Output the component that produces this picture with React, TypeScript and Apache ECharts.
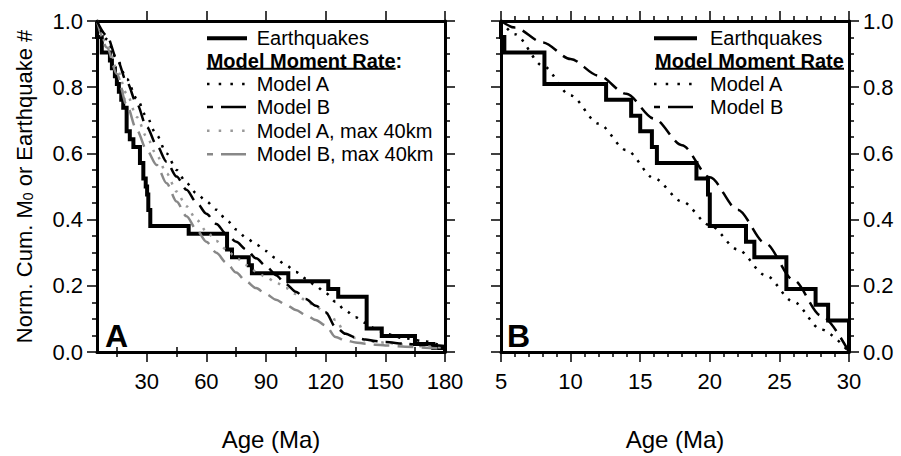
import React, { useEffect, useRef } from 'react';
import * as echarts from 'echarts';

const FONT = '"Liberation Sans", Arial, Helvetica, sans-serif';

// ---- Panel A data (Age in Ma, normalized cumulative value) ----
const eqAgeA = [5, 5, 7.4, 11.5, 12.5, 14, 15, 16, 17.2, 18.2, 19.9, 21.5, 23.3, 26.6, 28.3, 29.5, 30.2, 30.8, 31.8, 51.1, 70.4, 72.9, 81.3, 82.9, 101.2, 121.3, 126.3, 140.6, 148.2, 164.9, 174.1, 180];
const eqLevelA = [1.0, 0.952, 0.905, 0.881, 0.857, 0.833, 0.81, 0.786, 0.762, 0.738, 0.667, 0.643, 0.619, 0.571, 0.524, 0.5, 0.476, 0.429, 0.381, 0.357, 0.31, 0.286, 0.262, 0.238, 0.214, 0.19, 0.167, 0.071, 0.048, 0.024, 0.012, 0];

const ageGridA = [5, 10, 15, 20, 25, 30, 35, 40, 45, 50, 55, 60, 65, 70, 75, 80, 85, 90, 95, 100, 105, 110, 115, 120, 125, 130, 135, 140, 145, 150, 160, 170, 180];
const modelA_A = [1.0, 0.945, 0.885, 0.825, 0.765, 0.71, 0.655, 0.60, 0.55, 0.51, 0.48, 0.455, 0.43, 0.40, 0.37, 0.345, 0.325, 0.305, 0.283, 0.262, 0.242, 0.222, 0.2, 0.178, 0.152, 0.125, 0.105, 0.088, 0.07, 0.055, 0.041, 0.032, 0.015];
const modelB_A = [1.0, 0.955, 0.885, 0.815, 0.75, 0.68, 0.625, 0.575, 0.53, 0.49, 0.452, 0.418, 0.387, 0.357, 0.333, 0.31, 0.283, 0.26, 0.232, 0.205, 0.182, 0.16, 0.14, 0.12, 0.075, 0.055, 0.044, 0.038, 0.033, 0.03, 0.025, 0.021, 0.018];
const modelA40_A = [1.0, 0.93, 0.855, 0.78, 0.71, 0.65, 0.595, 0.54, 0.485, 0.44, 0.40, 0.365, 0.335, 0.31, 0.285, 0.263, 0.243, 0.226, 0.21, 0.193, 0.175, 0.156, 0.137, 0.118, 0.097, 0.055, 0.042, 0.035, 0.031, 0.028, 0.022, 0.017, 0.012];
const modelB40_A = [1.0, 0.92, 0.84, 0.745, 0.67, 0.61, 0.565, 0.51, 0.455, 0.41, 0.37, 0.333, 0.30, 0.27, 0.24, 0.213, 0.193, 0.175, 0.158, 0.143, 0.127, 0.112, 0.097, 0.08, 0.045, 0.035, 0.029, 0.025, 0.022, 0.02, 0.016, 0.013, 0.01];

// ---- Panel B data ----
const eqAgeB = [5, 5, 5.24, 8.12, 12.55, 14.35, 15.0, 15.84, 16.2, 19.04, 19.87, 20.0, 22.6, 23.2, 25.5, 27.6, 28.5, 30];
const eqLevelB = [1.0, 0.952, 0.905, 0.81, 0.762, 0.714, 0.667, 0.619, 0.571, 0.524, 0.476, 0.381, 0.333, 0.286, 0.19, 0.143, 0.095, 0];

const ageGridB = [5, 6, 8, 10, 12, 14, 16, 18, 20, 22, 24, 26, 28, 30];
const modelA_B = [1.0, 0.96, 0.865, 0.775, 0.69, 0.61, 0.525, 0.455, 0.383, 0.31, 0.232, 0.152, 0.068, 0.0];
const modelB_B = [1.0, 0.98, 0.935, 0.885, 0.835, 0.78, 0.705, 0.625, 0.528, 0.43, 0.328, 0.218, 0.11, 0.0];

// ---- Tick values ----
const tickMajorA = [30, 60, 90, 120, 150, 180];
const tickMinorA = [15, 45, 75, 105, 135, 165];

const legendA = ['Earthquakes', 'Model Moment Rate:', 'Model A', 'Model B', 'Model A, max 40km', 'Model B, max 40km'];
const legendB = ['Earthquakes', 'Model Moment Rate', 'Model A', 'Model B'];

const zip = (xs: number[], ys: number[]) => xs.map((x, i) => [x, ys[i]]);

const BLACK = '#000';
const GRAY_DASH = '#888888';
const GRAY_DOT = '#999999';
const DOT = [2.5, 7];
const DASH = [16, 8];

const frameLine = { show: true, onZero: false, lineStyle: { color: BLACK, width: 3 } };
const tickLine = { color: BLACK, width: 1.5 };
const TICK_FONT = 22;
const LABEL_MARGIN_X = 18;
const NAME_GAP_X = 75;

function xAxesA() {
  const base = { gridIndex: 0, type: 'value', min: 5, max: 180, splitLine: { show: false } };
  return [
    {
      ...base, position: 'bottom', axisLine: frameLine,
      axisTick: { show: true, customValues: tickMajorA, length: 10, lineStyle: tickLine },
      axisLabel: { show: true, customValues: tickMajorA, fontSize: TICK_FONT, color: BLACK, fontFamily: FONT, margin: LABEL_MARGIN_X },
      name: 'Age (Ma)', nameLocation: 'middle', nameGap: NAME_GAP_X,
      nameTextStyle: { fontSize: 24, color: BLACK, fontFamily: FONT },
    },
    {
      ...base, position: 'bottom', axisLine: { show: false },
      axisTick: { show: true, customValues: tickMinorA, length: 5, lineStyle: tickLine },
      axisLabel: { show: false },
    },
    {
      ...base, position: 'top', axisLine: frameLine,
      axisTick: { show: true, customValues: tickMajorA, length: 10, lineStyle: tickLine },
      axisLabel: { show: false },
    },
    {
      ...base, position: 'top', axisLine: { show: false },
      axisTick: { show: true, customValues: tickMinorA, length: 5, lineStyle: tickLine },
      axisLabel: { show: false },
    },
  ];
}

function xAxesB() {
  const base = {
    gridIndex: 1, type: 'value', min: 5, max: 30, interval: 5, splitLine: { show: false },
    axisLine: frameLine,
    axisTick: { show: true, length: 10, lineStyle: tickLine },
    minorTick: { show: true, splitNumber: 5, length: 5, lineStyle: tickLine },
  };
  return [
    {
      ...base, position: 'bottom',
      axisLabel: { show: true, fontSize: TICK_FONT, color: BLACK, fontFamily: FONT, margin: LABEL_MARGIN_X },
      name: 'Age (Ma)', nameLocation: 'middle', nameGap: NAME_GAP_X,
      nameTextStyle: { fontSize: 24, color: BLACK, fontFamily: FONT },
    },
    { ...base, position: 'top', axisLabel: { show: false } },
  ];
}

function yAxis(gridIndex: number, position: string, labels: boolean, withName: boolean) {
  const ax: any = {
    gridIndex, type: 'value', position, min: 0, max: 1, interval: 0.2,
    axisLine: frameLine,
    axisTick: { show: true, length: 10, lineStyle: tickLine },
    minorTick: { show: true, splitNumber: 4, length: 5, lineStyle: tickLine },
    splitLine: { show: false },
    axisLabel: {
      show: labels, fontSize: TICK_FONT, color: BLACK, fontFamily: FONT, margin: 14,
      formatter: (v: number) => v.toFixed(1),
    },
  };
  if (withName) {
    ax.name = 'Norm. Cum. M{sub|0} or Earthquake #';
    ax.nameLocation = 'middle';
    ax.nameGap = 62;
    ax.nameRotate = 90;
    ax.nameTextStyle = {
      fontSize: 22, color: BLACK, fontFamily: FONT,
      rich: { sub: { fontSize: 14, color: BLACK, fontFamily: FONT, verticalAlign: 'bottom' } },
    };
  }
  return ax;
}

function lineSeries(name: string, xIdx: number, yIdx: number, data: number[][], color: string, width: number, type: any, smooth: boolean, step?: string) {
  const s: any = {
    name, type: 'line', xAxisIndex: xIdx, yAxisIndex: yIdx, data, symbol: 'none',
    lineStyle: { color, width, type, cap: 'butt', join: 'miter' },
    silent: true,
  };
  if (step) s.step = step;
  if (smooth) { s.smooth = 0.3; s.smoothMonotone = 'x'; }
  return s;
}

const LEGEND_ROWS = [38.3, 61.2, 84.1, 107.0, 130.7, 154.3];

function legendGraphics(x0: number, x1: number, tx: number, hx: number, labels: string[], styles: any[], underlineEnd: number) {
  const els: any[] = [];
  labels.forEach((lab, i) => {
    const y = LEGEND_ROWS[i];
    if (i === 1) {
      els.push({ type: 'text', x: hx, y, style: { text: lab, fontSize: 20, fontWeight: 'bold', fontFamily: FONT, fill: BLACK, verticalAlign: 'middle', align: 'left' } });
      els.push({ type: 'line', shape: { x1: hx, y1: y + 7.5, x2: underlineEnd, y2: y + 7.5 }, style: { stroke: BLACK, lineWidth: 2 } });
      return;
    }
    const st = styles[i];
    els.push({ type: 'line', shape: { x1: x0, y1: y, x2: x1, y2: y }, style: { stroke: st.color, lineWidth: st.width, lineDash: st.dash, lineDashOffset: st.offset || 0 } });
    els.push({ type: 'text', x: tx, y, style: { text: lab, fontSize: 20, fontFamily: FONT, fill: BLACK, verticalAlign: 'middle', align: 'left' } });
  });
  return els;
}

const legendStyles = [
  { color: BLACK, width: 4 },
  null,
  { color: BLACK, width: 2.5, dash: [2.5, 9.2] },
  { color: BLACK, width: 2.5, dash: [25, 8], offset: 19 },
  { color: GRAY_DOT, width: 2.5, dash: [2.5, 9.2] },
  { color: GRAY_DASH, width: 2.5, dash: [25, 8], offset: 19 },
];

const option: any = {
  animation: false,
  backgroundColor: '#fff',
  grid: [
    { left: 97, top: 21, width: 348, height: 334 },
    { left: 501, top: 21, width: 348, height: 334 },
  ],
  xAxis: [...xAxesA(), ...xAxesB()],
  yAxis: [
    yAxis(0, 'left', true, true),
    yAxis(0, 'right', false, false),
    yAxis(1, 'left', false, false),
    yAxis(1, 'right', true, false),
  ],
  series: [
    lineSeries('Earthquakes A', 0, 0, zip(eqAgeA, eqLevelA), BLACK, 4, 'solid', false, 'end'),
    lineSeries('Model B, max 40km', 0, 0, zip(ageGridA, modelB40_A), GRAY_DASH, 2.5, DASH, true),
    lineSeries('Model A, max 40km', 0, 0, zip(ageGridA, modelA40_A), GRAY_DOT, 2.5, DOT, true),
    lineSeries('Model A', 0, 0, zip(ageGridA, modelA_A), BLACK, 2.5, DOT, true),
    lineSeries('Model B', 0, 0, zip(ageGridA, modelB_A), BLACK, 2.5, DASH, true),
    lineSeries('Earthquakes B', 4, 2, zip(eqAgeB, eqLevelB), BLACK, 4, 'solid', false, 'end'),
    lineSeries('Model A B', 4, 2, zip(ageGridB, modelA_B), BLACK, 2.5, DOT, true),
    lineSeries('Model B B', 4, 2, zip(ageGridB, modelB_B), BLACK, 2.5, DASH, true),
  ],
  graphic: [
    ...legendGraphics(207, 247, 256.7, 206.7, legendA, legendStyles, 395.6),
    ...legendGraphics(654, 697, 710, 655, legendB, legendStyles, 844),
    { type: 'text', x: 105, y: 336, style: { text: 'A', fontSize: 32, fontWeight: 'bold', fontFamily: FONT, fill: BLACK, verticalAlign: 'middle', align: 'left' } },
    { type: 'text', x: 507, y: 336, style: { text: 'B', fontSize: 32, fontWeight: 'bold', fontFamily: FONT, fill: BLACK, verticalAlign: 'middle', align: 'left' } },
  ],
};

export default function App() {
  const ref = useRef<HTMLDivElement>(null);
  useEffect(() => {
    if (!ref.current) return;
    const chart = echarts.init(ref.current, null, { renderer: 'svg' });
    chart.setOption(option);
    return () => chart.dispose();
  }, []);
  return (
    <div
      ref={ref}
      style={{ position: 'fixed', left: 0, top: 0, width: 901, height: 456, background: '#fff' }}
    />
  );
}
